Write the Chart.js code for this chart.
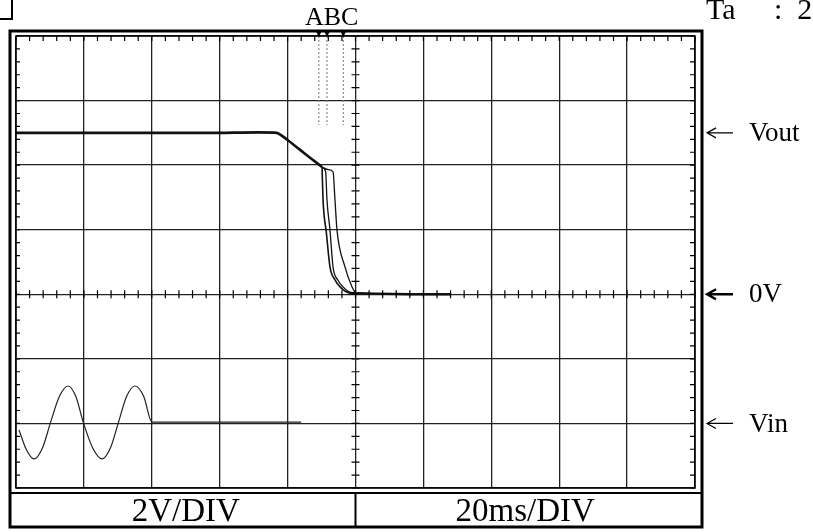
<!DOCTYPE html>
<html>
<head>
<meta charset="utf-8">
<script src="https://cdn.jsdelivr.net/npm/chart.js@4.4.0/dist/chart.umd.min.js"></script>
<style>
  body { margin: 0; background: #fff; }
  #lienzo { display: block; }
</style>
</head>
<body>
<canvas id="lienzo" width="813" height="532"></canvas>
<script>
// escala: x en divisiones (20ms/DIV), y en divisiones (2V/DIV)
const divX = [0, 10]
const divY = [-3, 4]

// Vout: tramo comun (plano y bajada lenta)
const voutX = [0, 3.0, 3.84, 4.0, 4.18, 4.35, 4.507]
const voutY = [2.5, 2.5, 2.5, 2.39, 2.24, 2.10, 1.97]

// tres caidas A, B, C
const caidaAX = [4.507, 4.522, 4.54, 4.566, 4.624, 4.70, 4.772, 4.86, 4.95]
const caidaAY = [1.97, 1.46, 1.20, 0.997, 0.424, 0.22, 0.115, 0.04, 0.02]
const caidaBX = [4.507, 4.56, 4.58, 4.624, 4.669, 4.74, 4.816, 4.90, 4.97]
const caidaBY = [1.97, 1.90, 1.46, 0.997, 0.424, 0.22, 0.115, 0.04, 0.02]
const caidaCX = [4.507, 4.60, 4.669, 4.698, 4.727, 4.845, 4.948, 5.0]
const caidaCY = [1.97, 1.93, 1.895, 1.46, 0.997, 0.424, 0.115, 0.02]

// linea de cero despues de la caida
const ceroX = [4.9, 5.3, 5.8, 6.4]
const ceroY = [0.02, 0.01, 0.0, 0.0]

// Vin: dos ciclos y luego plano
const vinX = [0.044, 0.15, 0.265, 0.39, 0.51, 0.64, 0.766, 0.88, 0.99, 1.13, 1.267, 1.39, 1.51, 1.63, 1.753, 1.88, 2.003, 2.6, 3.3, 4.2]
const vinY = [-2.10, -2.40, -2.55, -2.38, -1.98, -1.58, -1.42, -1.58, -1.98, -2.38, -2.55, -2.38, -1.98, -1.58, -1.42, -1.58, -1.98, -1.98, -1.98, -1.98]

// cursores A B C
const cursorX = [4.46, 4.58, 4.82]
const cursorTop = 4
const cursorBottom = 2.62
const cursorNombres = ['A', 'B', 'C']

// etiquetas de la derecha
const etiquetas = ['Vout', '0V', 'Vin']
const etiquetasY = [2.5, 0, -2]

const puntos = (xs, ys) => xs.map((x, i) => ({x: x, y: ys[i]}))

const serie = (xs, ys, ancho, extra) => Object.assign({
    data: puntos(xs, ys),
    showLine: true,
    borderColor: '#111',
    borderWidth: ancho,
    pointRadius: 0,
    tension: 0.3,
    fill: false
}, extra || {})

const datos = [
    serie(voutX, voutY, 2.6, {tension: 0.2}),
    serie(caidaAX, caidaAY, 1.6, {cubicInterpolationMode: 'monotone'}),
    serie(caidaBX, caidaBY, 1.3, {cubicInterpolationMode: 'monotone'}),
    serie(caidaCX, caidaCY, 1.3, {cubicInterpolationMode: 'monotone'}),
    serie(ceroX, ceroY, 2.4, {tension: 0}),
    serie(vinX, vinY, 1.2, {cubicInterpolationMode: 'monotone', borderColor: '#222'})
]

cursorX.forEach(cx => {
    datos.push(serie([cx, cx], [cursorTop, cursorBottom], 1, {borderColor: '#777', borderDash: [2, 2], tension: 0}))
})

const marco = {
    id: 'marco',
    afterDraw(chart) {
        const ctx = chart.ctx
        const a = chart.chartArea
        const sx = chart.scales.x
        const sy = chart.scales.y
        ctx.save()
        ctx.strokeStyle = '#000'

        // rayitas menores cada 0.2 div
        ctx.lineWidth = 1.2
        const x0 = sx.getPixelForValue(5)
        const y0 = sy.getPixelForValue(0)
        for (let v = divX[0]; v <= divX[1] + 0.001; v += 0.2) {
            const px = sx.getPixelForValue(v)
            ctx.beginPath()
            ctx.moveTo(px, y0 - 4); ctx.lineTo(px, y0 + 4)
            ctx.moveTo(px, a.top); ctx.lineTo(px, a.top + 5)
            ctx.stroke()
        }
        for (let v = divY[0]; v <= divY[1] + 0.001; v += 0.2) {
            const py = sy.getPixelForValue(v)
            ctx.beginPath()
            ctx.moveTo(x0 - 4, py); ctx.lineTo(x0 + 4, py)
            ctx.moveTo(a.left, py); ctx.lineTo(a.left + 4, py)
            ctx.moveTo(a.right, py); ctx.lineTo(a.right - 5, py)
            ctx.stroke()
        }

        // borde interior
        ctx.lineWidth = 1.5
        ctx.strokeRect(a.left, a.top, a.right - a.left, a.bottom - a.top)
        // borde exterior y caja de etiquetas
        ctx.lineWidth = 3
        ctx.strokeRect(a.left - 6, a.top - 5, a.right - a.left + 13, 527 - a.top + 5)
        ctx.lineWidth = 2
        ctx.beginPath()
        ctx.moveTo(a.left - 6, a.bottom + 5); ctx.lineTo(a.right + 7, a.bottom + 5)
        ctx.moveTo(x0, a.bottom + 5); ctx.lineTo(x0, 527)
        ctx.stroke()

        // esquina arriba a la izquierda
        ctx.beginPath()
        ctx.moveTo(12, 0); ctx.lineTo(12, 19); ctx.lineTo(0, 19)
        ctx.stroke()

        // marcas de los cursores
        ctx.fillStyle = '#000'
        cursorX.forEach(cx => {
            const px = sx.getPixelForValue(cx)
            ctx.beginPath()
            ctx.moveTo(px - 2.5, a.top - 4); ctx.lineTo(px + 2.5, a.top - 4); ctx.lineTo(px, a.top + 1)
            ctx.fill()
        })

        ctx.font = '26px "Liberation Serif"'
        ctx.textBaseline = 'alphabetic'
        ctx.textAlign = 'left'
        ctx.fillText(cursorNombres.join(''), 305, 25)

        // flechas y etiquetas
        etiquetas.forEach((t, i) => {
            const py = sy.getPixelForValue(etiquetasY[i])
            ctx.lineWidth = t == '0V' ? 2.4 : 1.2
            ctx.beginPath()
            ctx.moveTo(733, py); ctx.lineTo(707, py)
            ctx.moveTo(716, py - 5); ctx.lineTo(707, py); ctx.lineTo(716, py + 5)
            ctx.stroke()
            ctx.font = '27px "Liberation Serif"'
            ctx.textBaseline = 'middle'
            ctx.fillText(t, 749, py + 1)
        })

        // caja inferior
        ctx.font = '33px "Liberation Serif"'
        ctx.textAlign = 'center'
        ctx.textBaseline = 'middle'
        ctx.fillText('2V/DIV', (a.left + x0) / 2, 512)
        ctx.fillText('20ms/DIV', (x0 + a.right) / 2, 512)

        // temperatura, cortada arriba
        ctx.font = '30px "Liberation Serif"'
        ctx.textAlign = 'left'
        ctx.textBaseline = 'alphabetic'
        ctx.fillText('Ta', 706, 19)
        ctx.fillText(':  25', 774, 19)
        ctx.restore()
    }
}

new Chart(document.getElementById('lienzo'), {
    type: 'scatter',
    data: {datasets: datos},
    options: {
        responsive: false,
        animation: false,
        layout: {padding: {left: 16, top: 36, right: 118, bottom: 44}},
        plugins: {legend: {display: false}, tooltip: {enabled: false}},
        scales: {
            x: {
                type: 'linear', min: divX[0], max: divX[1],
                ticks: {display: false, stepSize: 1},
                grid: {color: '#222', lineWidth: 1.3, drawTicks: false},
                border: {display: false}
            },
            y: {
                type: 'linear', min: divY[0], max: divY[1],
                ticks: {display: false, stepSize: 1},
                grid: {color: '#222', lineWidth: 1.3, drawTicks: false},
                border: {display: false}
            }
        }
    },
    plugins: [marco]
})
</script>
</body>
</html>
